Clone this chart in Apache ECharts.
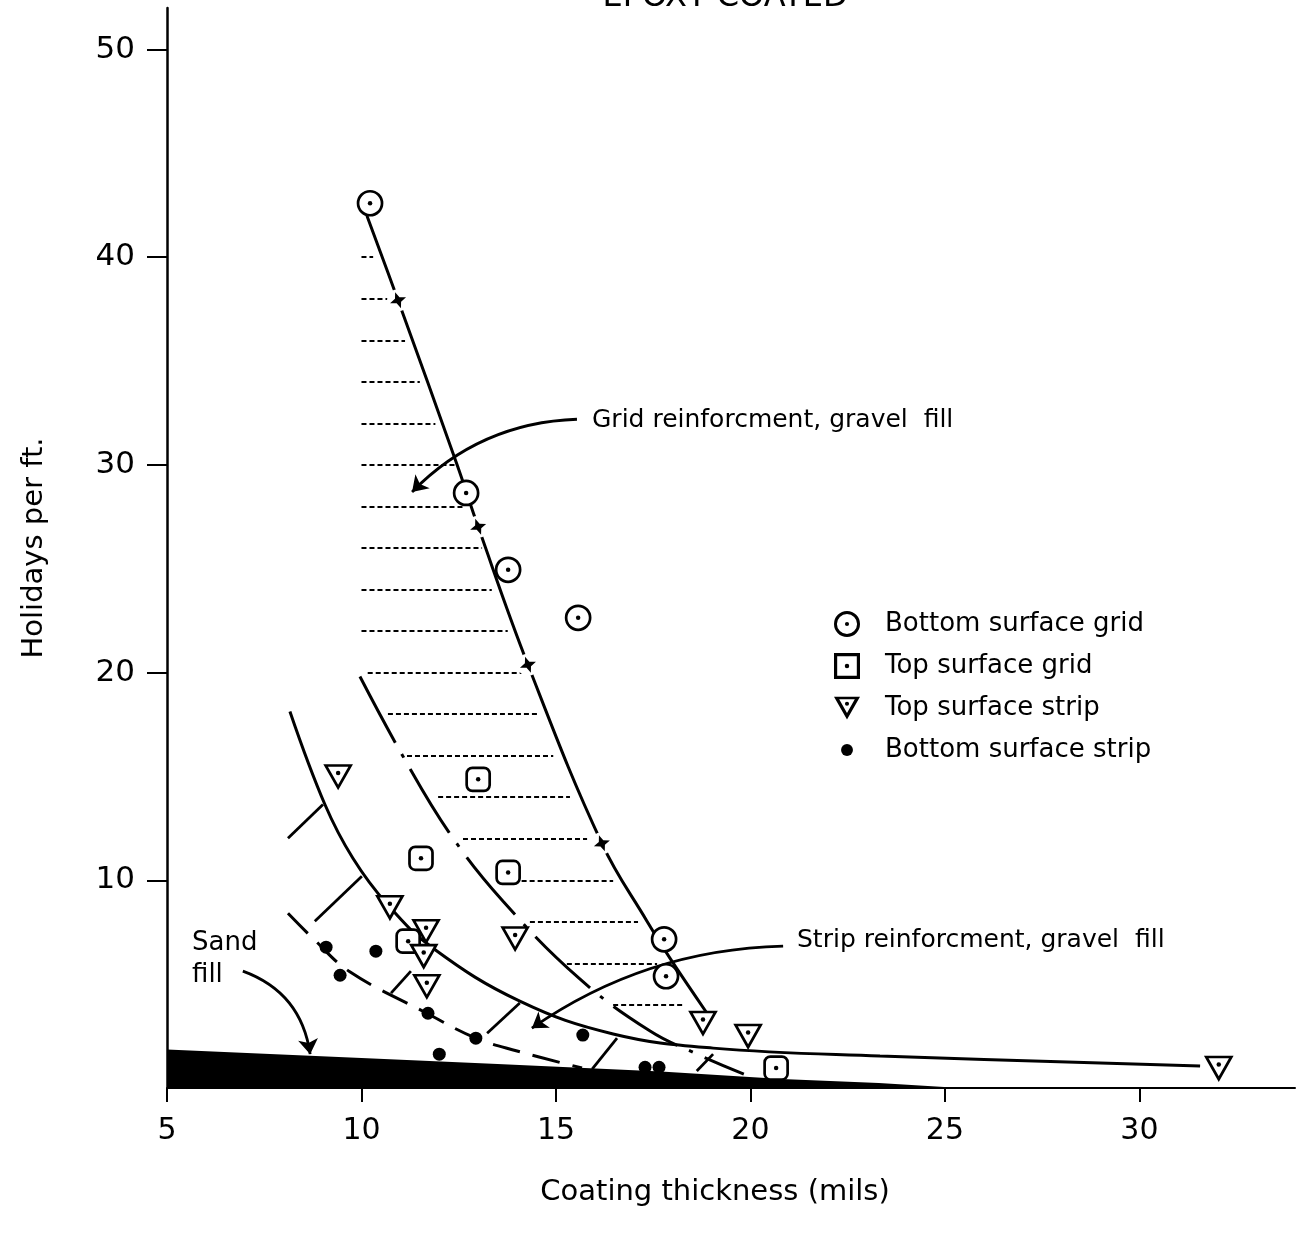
<!DOCTYPE html>
<html>
<head>
<meta charset="utf-8">
<script src="https://cdn.jsdelivr.net/npm/echarts@6/dist/echarts.min.js"></script>
<style>
  html, body { margin: 0; background: #fff; }
  #chart { width: 1315px; height: 1248px; }
</style>
</head>
<body>
<div id="chart"></div>
<script>
// measured points
const bottomGridX = [10.22, 12.69, 13.77, 15.57, 17.78, 17.83]
const bottomGridY = [42.6, 28.65, 24.95, 22.64, 7.16, 5.38]
const topGridX = [13.0, 11.53, 13.77, 11.2, 20.66]
const topGridY = [14.86, 11.06, 10.38, 7.07, 0.96]
const topStripX = [9.4, 10.73, 11.66, 11.6, 11.68, 13.95, 18.78, 19.94, 32.04]
const topStripY = [15.0, 8.7, 7.55, 6.35, 4.9, 7.2, 3.13, 2.5, 0.96]
const bottomStripX = [9.09, 9.45, 10.37, 11.71, 12.94, 15.69, 12.0, 17.29, 17.65]
const bottomStripY = [6.78, 5.43, 6.59, 3.6, 2.4, 2.55, 1.63, 1.0, 1.0]

// fitted curves
const gridUpperX = [10.14, 10.94, 12.46, 13.0, 14.28, 16.18, 17.34, 17.93, 18.88]
const gridUpperY = [42.0, 37.93, 30.0, 27.02, 20.38, 11.78, 8.03, 6.25, 3.61]
const gridLowerX = [9.96, 11.04, 12.25, 13.64, 15.62, 17.42, 18.57, 19.83]
const gridLowerY = [19.81, 16.06, 12.31, 8.99, 5.24, 2.74, 1.68, 0.67]
const stripUpperX = [8.16, 9.06, 9.78, 10.66, 11.84, 14.07, 16.47, 19.04, 23.33, 31.56]
const stripUpperY = [18.13, 13.65, 11.06, 8.85, 6.73, 4.18, 2.6, 1.92, 1.54, 1.06]
const stripLowerX = [8.11, 8.75, 9.7, 11.68, 12.94, 14.0, 15.67]
const stripLowerY = [8.41, 7.21, 5.6, 3.6, 2.4, 1.78, 0.96]
const starX = [10.94, 13.0, 14.28, 16.18]
const starY = [37.93, 27.02, 20.38, 11.78]

// sand fill wedge
const sandX = [5, 10, 13.5, 17.7, 20.8, 23.3, 25.4]
const sandY = [1.85, 1.45, 1.15, 0.8, 0.43, 0.24, 0]

// horizontal hatching, grid region
const hatchY = [40, 38, 36, 34, 32, 30, 28, 26, 24, 22, 20, 18, 16, 14, 12, 10, 8, 6, 4]
const hatchFrom = [10.0, 10.0, 10.0, 10.0, 10.0, 10.0, 10.0, 10.0, 10.0, 10.0, 10.16, 10.68, 11.17, 11.97, 12.61, 13.5, 14.33, 15.28, 16.47]
const hatchTo = [10.3, 10.9, 11.12, 11.5, 11.9, 12.46, 12.64, 13.1, 13.35, 13.76, 14.25, 14.54, 14.93, 15.36, 15.8, 16.47, 17.11, 17.6, 18.3]

// slanted hatching, strip region
const slantX1 = [8.11, 8.8, 10.76, 13.23, 15.93, 18.62]
const slantY1 = [12.02, 8.03, 4.57, 2.64, 0.91, 0.82]
const slantX2 = [9.01, 10.01, 11.27, 14.07, 16.57, 19.04]
const slantY2 = [13.65, 10.19, 5.63, 4.09, 2.4, 1.63]

const xTicks = [5, 10, 15, 20, 25, 30]
const yTicks = [10, 20, 30, 40, 50]

const zip = (xs, ys) => xs.map((x, i) => [x, ys[i]])

const FONT = 'DejaVu Sans, sans-serif'

const RING_CIRCLE = 'path://M0,-12A12,12,0,1,1,0,12A12,12,0,1,1,0,-12ZM0,-9.3A9.3,9.3,0,1,0,0,9.3A9.3,9.3,0,1,0,0,-9.3ZM0,-1.9A1.9,1.9,0,1,1,0,1.9A1.9,1.9,0,1,1,0,-1.9Z'
const RING_SQUARE = 'path://M-11,-11H11V11H-11ZM-8.3,-8.3V8.3H8.3V-8.3ZM0,-1.9A1.9,1.9,0,1,1,0,1.9A1.9,1.9,0,1,1,0,-1.9Z'
const RING_TRI = 'path://M-12,-10L12,-10L0,11ZM-7.2,-7.5L0,5.2L7.2,-7.5ZM0,-5.3A1.9,1.9,0,1,1,0,-1.5A1.9,1.9,0,1,1,0,-5.3Z'
const DOT = 'path://M-12,-12M12,12M0,-5.5A5.5,5.5,0,1,1,0,5.5A5.5,5.5,0,1,1,0,-5.5Z'
const STAR = 'path://M0,-10L2.8,-2.8L10,0L2.8,2.8L0,10L-2.8,2.8L-10,0L-2.8,-2.8Z'

const chart = echarts.init(document.getElementById('chart'))

const hollow = { color: '#fff', borderColor: '#000', borderWidth: 2.7, opacity: 1 }
const black = { color: '#000', opacity: 1 }

chart.setOption({
  animation: false,
  backgroundColor: '#fff',
  grid: { left: 167, right: 20, top: 8, bottom: 160 },
  xAxis: {
    type: 'value',
    min: 5,
    max: 34,
    interval: 5,
    name: 'Coating thickness (mils)',
    nameLocation: 'middle',
    nameGap: 90,
    nameTextStyle: { fontFamily: FONT, fontSize: 29, color: '#000', padding: [0, 32, 0, 0] },
    axisLine: { lineStyle: { color: '#000', width: 2 } },
    axisTick: { customValues: xTicks, length: 14, lineStyle: { color: '#000', width: 2 } },
    axisLabel: { customValues: xTicks, margin: 28, fontFamily: FONT, fontSize: 30, color: '#000' },
    splitLine: { show: false }
  },
  yAxis: {
    type: 'value',
    min: 0,
    max: 52,
    interval: 10,
    name: 'Holidays per ft.',
    nameLocation: 'middle',
    nameGap: 118,
    nameTextStyle: { fontFamily: FONT, fontSize: 29, color: '#000' },
    axisLine: { show: true, lineStyle: { color: '#000', width: 2.5 } },
    axisTick: { show: true, customValues: yTicks, length: 20, lineStyle: { color: '#000', width: 2 } },
    axisLabel: { customValues: yTicks, margin: 32, fontFamily: FONT, fontSize: 31, color: '#000' },
    splitLine: { show: false }
  },
  legend: {
    orient: 'vertical',
    left: 829,
    top: 604,
    itemWidth: 26,
    itemHeight: 26,
    itemGap: 12,
    selectedMode: false,
    itemStyle: { color: '#000', borderWidth: 0, opacity: 1 },
    textStyle: { fontFamily: FONT, fontSize: 26, lineHeight: 30, color: '#000', padding: [0, 0, 0, 20] },
    data: [
      { name: 'Bottom surface grid', icon: RING_CIRCLE },
      { name: 'Top surface grid', icon: RING_SQUARE },
      { name: 'Top surface strip', icon: RING_TRI },
      { name: 'Bottom surface strip', icon: DOT }
    ]
  },
  graphic: [
    { type: 'text', x: 725, y: 14, style: { text: 'EPOXY COATED', font: '32px ' + FONT, fill: '#000', align: 'center', verticalAlign: 'bottom' } },
    { type: 'text', x: 592, y: 420, style: { text: 'Grid reinforcment, gravel  fill', font: '25px ' + FONT, fill: '#000', verticalAlign: 'middle' } },
    { type: 'text', x: 797, y: 940, style: { text: 'Strip reinforcment, gravel  fill', font: '25px ' + FONT, fill: '#000', verticalAlign: 'middle' } },
    { type: 'text', x: 192, y: 943, style: { text: 'Sand', font: '26px ' + FONT, fill: '#000', verticalAlign: 'middle' } },
    { type: 'text', x: 192, y: 975, style: { text: 'fill', font: '26px ' + FONT, fill: '#000', verticalAlign: 'middle' } }
  ],
  series: [
    {
      type: 'line', data: zip(sandX, sandY), symbol: 'none', silent: true,
      lineStyle: { width: 0 }, areaStyle: { color: '#000', opacity: 1 }, z: 1
    },
    {
      type: 'lines', coordinateSystem: 'cartesian2d', silent: true, z: 2,
      lineStyle: { color: '#000', width: 2, type: [5, 3], opacity: 1 },
      data: hatchY.map((y, i) => ({ coords: [[hatchFrom[i], y], [hatchTo[i], y]] }))
    },
    {
      type: 'lines', coordinateSystem: 'cartesian2d', silent: true, z: 2,
      lineStyle: { color: '#000', width: 2.8, opacity: 1 },
      data: slantX1.map((x, i) => ({ coords: [[x, slantY1[i]], [slantX2[i], slantY2[i]]] }))
    },
    {
      type: 'line', data: zip(gridUpperX, gridUpperY), smooth: 0.4, symbol: 'none', silent: true, z: 2,
      lineStyle: { color: '#000', width: 3 }
    },
    {
      type: 'line', data: zip(gridLowerX, gridLowerY), smooth: 0.4, symbol: 'none', silent: true, z: 2,
      lineStyle: { color: '#000', width: 3, type: [75, 13, 4, 13] }
    },
    {
      type: 'line', data: zip(stripUpperX, stripUpperY), smooth: 0.4, symbol: 'none', silent: true, z: 2,
      lineStyle: { color: '#000', width: 3 }
    },
    {
      type: 'line', data: zip(stripLowerX, stripLowerY), smooth: 0.4, symbol: 'none', silent: true, z: 2,
      lineStyle: { color: '#000', width: 3, type: [28, 13] }
    },
    {
      type: 'scatter', data: zip(starX, starY), symbol: 'circle', symbolSize: 22, silent: true, z: 3,
      itemStyle: { color: '#fff', opacity: 1 }
    },
    {
      type: 'scatter', data: zip(starX, starY), symbol: STAR, symbolSize: 17, symbolRotate: 20, silent: true, z: 4,
      itemStyle: black
    },
    {
      type: 'lines', coordinateSystem: 'cartesian2d', silent: true, z: 4,
      symbol: ['none', 'arrow'], symbolSize: 15,
      lineStyle: { color: '#000', width: 2.8, opacity: 1 },
      data: [
        { coords: [[15.54, 32.2], [11.3, 28.7]], lineStyle: { curveness: -0.2 } },
        { coords: [[20.84, 6.83], [14.38, 2.88]], lineStyle: { curveness: -0.15 } },
        { coords: [[6.95, 5.63], [8.68, 1.63]], lineStyle: { curveness: 0.3 } }
      ]
    },
    {
      name: 'Bottom surface grid', type: 'scatter', data: zip(bottomGridX, bottomGridY),
      symbol: 'circle', symbolSize: 24, itemStyle: hollow, z: 5
    },
    {
      name: 'Top surface grid', type: 'scatter', data: zip(topGridX, topGridY),
      symbol: 'roundRect', symbolSize: 23, itemStyle: hollow, z: 5
    },
    {
      name: 'Top surface strip', type: 'scatter', data: zip(topStripX, topStripY),
      symbol: 'triangle', symbolRotate: 180, symbolSize: [25, 22], itemStyle: hollow, z: 5
    },
    {
      name: 'Bottom surface strip', type: 'scatter', data: zip(bottomStripX, bottomStripY),
      symbol: 'circle', symbolSize: 13, itemStyle: black, z: 5
    },
    // centre dots of the open markers
    { type: 'scatter', data: zip(bottomGridX, bottomGridY), symbol: 'circle', symbolSize: 4.5, itemStyle: black, silent: true, z: 6 },
    { type: 'scatter', data: zip(topGridX, topGridY), symbol: 'circle', symbolSize: 4.5, itemStyle: black, silent: true, z: 6 },
    { type: 'scatter', data: zip(topStripX, topStripY), symbol: 'circle', symbolSize: 4.5, symbolOffset: [0, -3.5], itemStyle: black, silent: true, z: 6 }
  ]
})
</script>
</body>
</html>
